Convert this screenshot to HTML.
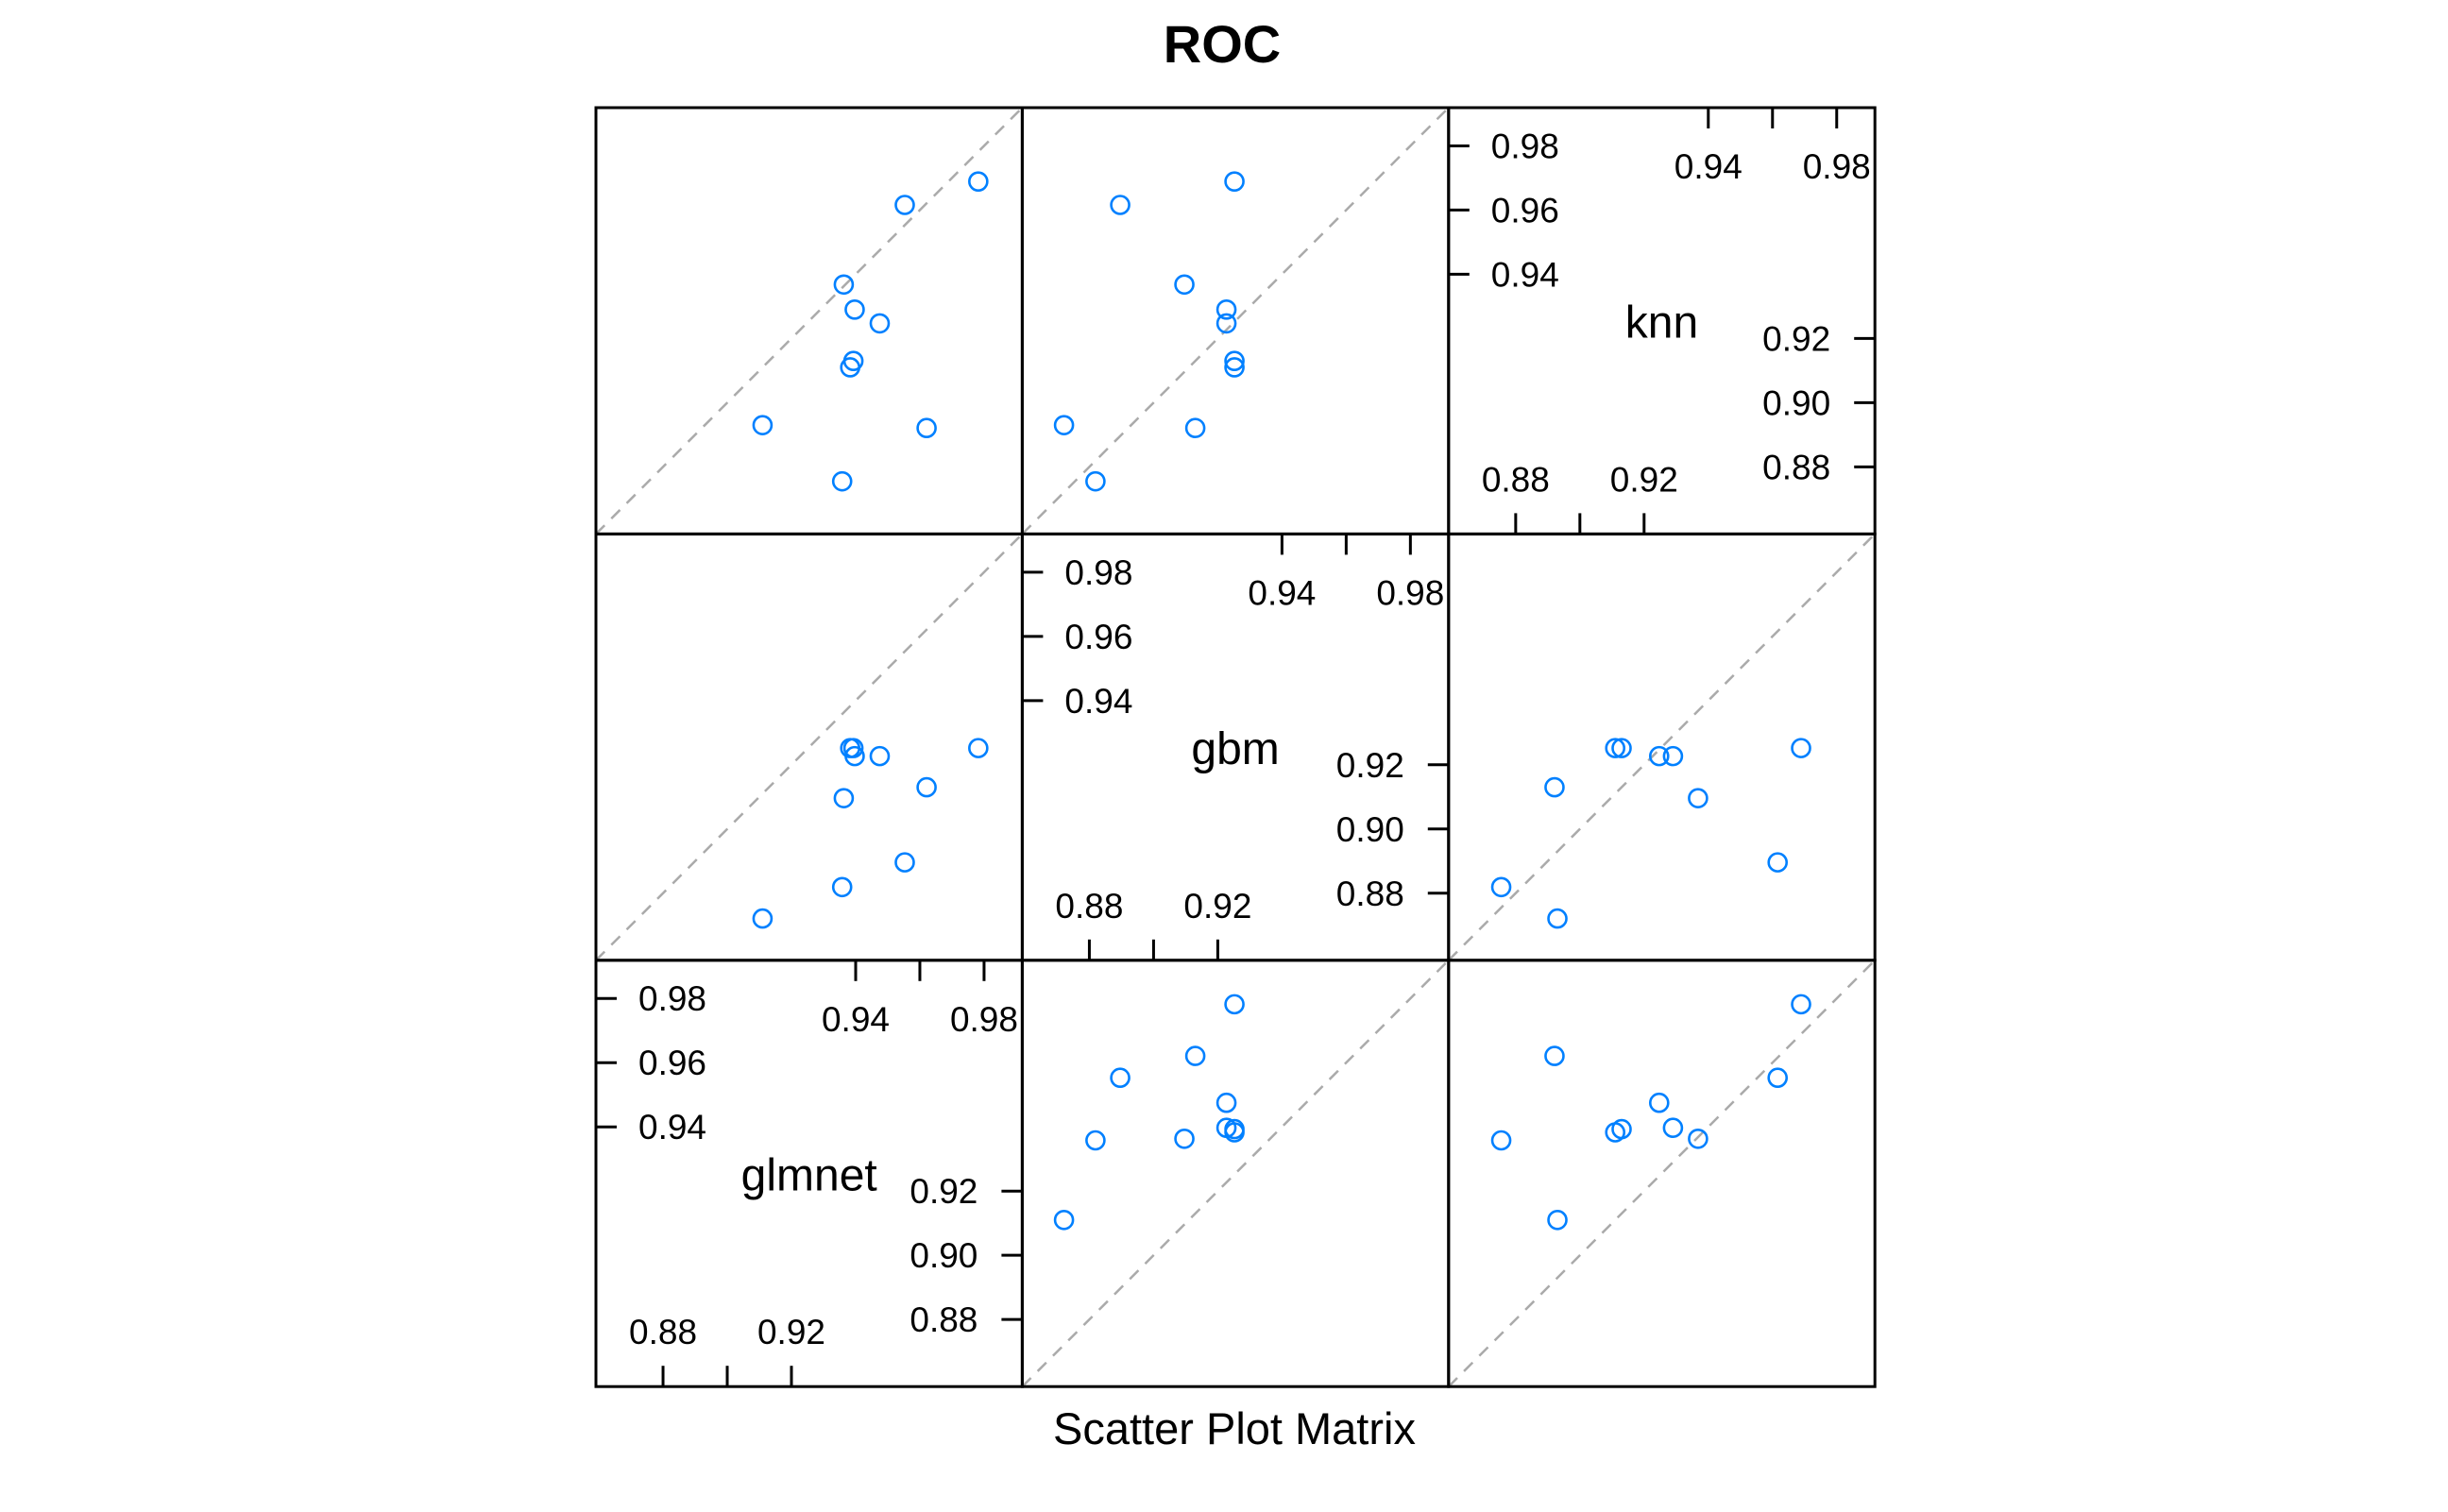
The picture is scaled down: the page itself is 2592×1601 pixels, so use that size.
<!DOCTYPE html>
<html><head><meta charset="utf-8"><style>
html,body{margin:0;padding:0;background:#fff;}
svg{display:block;font-family:"Liberation Sans",Arial,sans-serif;}
</style></head><body>
<svg id="chart" width="2592" height="1601" viewBox="0 0 2592 1601">
<text x="1294" y="66" text-anchor="middle" font-size="56" font-weight="bold">ROC</text>
<text x="1307" y="1529" text-anchor="middle" font-size="47">Scatter Plot Matrix</text>
<g id="plots"></g>
</svg>
<script>
const varNames = ["glmnet", "gbm", "knn"];
const glmnetVals = [0.9782, 0.9553, 0.9363, 0.9397, 0.9475, 0.9393, 0.9383, 0.9110, 0.9621, 0.9358];
const gbmVals    = [0.9252, 0.8896, 0.9096, 0.9227, 0.9227, 0.9252, 0.9252, 0.8721, 0.9130, 0.8819];
const knnVals    = [0.9689, 0.9616, 0.9368, 0.9290, 0.9247, 0.9130, 0.9110, 0.8930, 0.8921, 0.8755];
const lowTicks = [0.88, 0.90, 0.92];
const highTicks = [0.94, 0.96, 0.98];
const lowLabels = ["0.88", "0.92"];
const highLabels = ["0.94", "0.98"];
const axisMin = 0.8591, axisMax = 0.9919;

const series = [glmnetVals, gbmVals, knnVals];
const NS = "http://www.w3.org/2000/svg";
const g = document.getElementById("plots");
const X0 = 631, Y0 = 114, P = 451.4;
const FS = 37;
function mk(tag, attrs, parent){const e=document.createElementNS(NS,tag);for(const k in attrs)e.setAttribute(k,attrs[k]);(parent||g).appendChild(e);return e;}
function sx(v,c){return X0 + c*P + (v-axisMin)/(axisMax-axisMin)*P;}
function sy(v,r){return Y0 + (r+1)*P - (v-axisMin)/(axisMax-axisMin)*P;}

for(let r=0;r<3;r++){
  for(let c=0;c<3;c++){
    const yi = 2-r, xi = c;
    const left = X0+c*P, top = Y0+r*P;
    const pg = mk("g",{});
    
    
    if(xi===yi){
      const nm = mk("text",{x:left+P/2,y:top+P/2+18,"text-anchor":"middle","font-size":48},pg);
      nm.textContent = varNames[xi];
      
      
      highTicks.forEach(v=>{
        const y = sy(v,r);
        const t1 = mk("line",{x1:left,x2:left+22,y1:y,y2:y,stroke:"#000","stroke-width":3},pg);
        
        
        const l1 = mk("text",{x:left+45,y:y+13,"font-size":FS},pg);
        l1.textContent = v.toFixed(2);
        
        
        const x = sx(v,c);
        const t2 = mk("line",{x1:x,x2:x,y1:top,y2:top+22,stroke:"#000","stroke-width":3},pg);
        
        
      });
      highLabels.forEach(s=>{
        const l = mk("text",{x:sx(parseFloat(s),c),y:top+75,"text-anchor":"middle","font-size":FS},pg);
        l.textContent = s;
        
        
      });
      lowTicks.forEach(v=>{
        const x = sx(v,c);
        const t1 = mk("line",{x1:x,x2:x,y1:top+P-22,y2:top+P,stroke:"#000","stroke-width":3},pg);
        
        
        const y = sy(v,r);
        const t2 = mk("line",{x1:left+P-22,x2:left+P,y1:y,y2:y,stroke:"#000","stroke-width":3},pg);
        
        
        const l2 = mk("text",{x:left+P-47,y:y+13,"text-anchor":"end","font-size":FS},pg);
        l2.textContent = v.toFixed(2);
        
        
      });
      lowLabels.forEach(s=>{
        const l = mk("text",{x:sx(parseFloat(s),c),y:top+P-45,"text-anchor":"middle","font-size":FS},pg);
        l.textContent = s;
        
        
      });
    } else {
      const dl = mk("line",{x1:sx(axisMin,c),y1:sy(axisMin,r),x2:sx(axisMax,c),y2:sy(axisMax,r),stroke:"#aaa","stroke-width":2.5,"stroke-dasharray":"13,10"},pg);
      
      
      const xs = series[xi], ys = series[yi];
      for(let i=0;i<xs.length;i++){
        const pt = mk("circle",{cx:sx(xs[i],c),cy:sy(ys[i],r),r:9.5,fill:"none",stroke:"#0080ff","stroke-width":2.6},pg);
        
        
      }
    }
    const bd = mk("rect",{x:left,y:top,width:P,height:P,fill:"none",stroke:"#000","stroke-width":3},pg);
    
    
  }
}
</script>
</body></html>
